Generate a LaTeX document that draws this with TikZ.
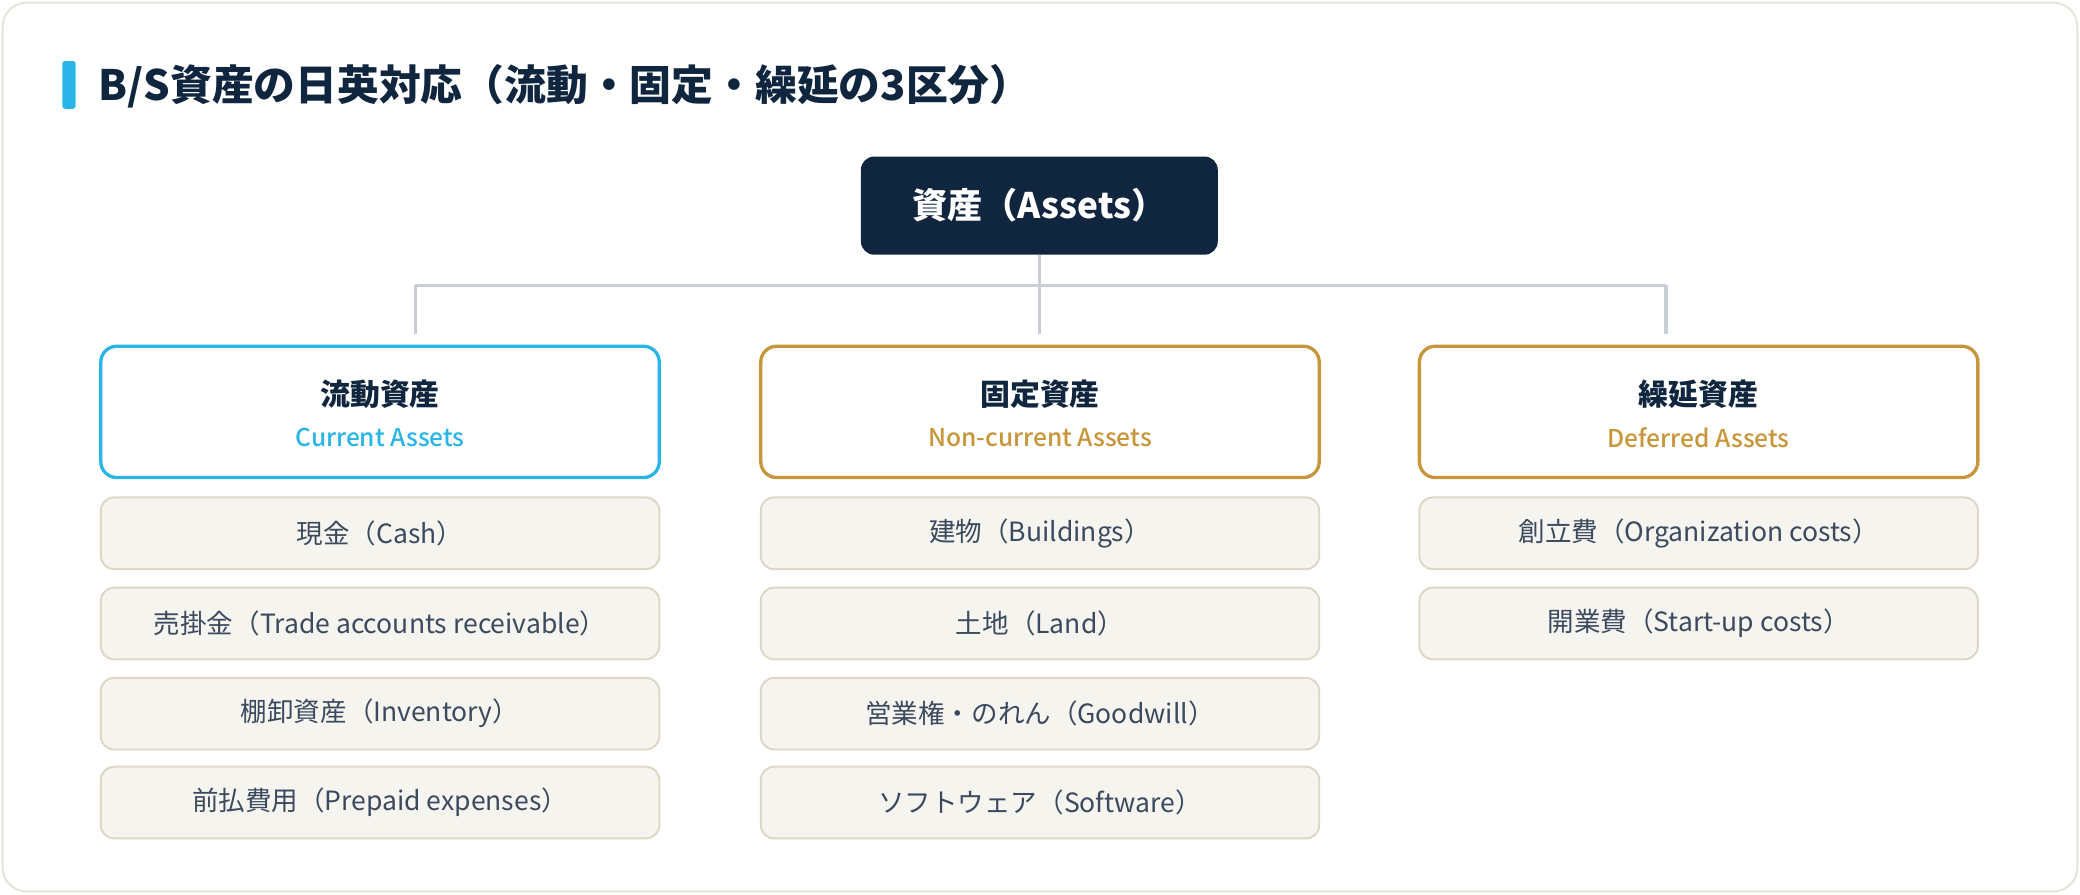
\documentclass[tikz,border=0pt]{standalone}
\usepackage{fontspec}
\setmainfont{Noto Sans CJK JP}
\newfontfamily\medfont{Noto Sans CJK JP}[UprightFont=* Medium]
\definecolor{navy}{HTML}{10263F}
\definecolor{cyanc}{HTML}{29B5E8}
\definecolor{goldc}{HTML}{C8963A}
\definecolor{connc}{HTML}{C8CDD6}
\definecolor{itemfill}{HTML}{F6F4EF}
\definecolor{itemdraw}{HTML}{DDD8C6}
\definecolor{itemtext}{HTML}{3B4A5E}
\definecolor{cardborder}{HTML}{E6E3D9}
\tikzset{
  rootbox/.style={fill=navy, rounded corners=10pt, minimum width=269pt, minimum height=74pt, inner sep=0pt,
    text=white, font=\fontsize{26.5}{30}\selectfont\bfseries},
  catbox/.style={draw=#1, line width=2.5pt, fill=white, rounded corners=12pt, minimum width=421pt, minimum height=99pt, inner sep=0pt},
  cattitle/.style={text=navy, font=\fontsize{22.5}{26}\selectfont\bfseries, inner sep=0pt},
  catsub/.style={text=#1, font=\fontsize{18.5}{22}\medfont, inner sep=0pt},
  itembox/.style={draw=itemdraw, line width=1.5pt, fill=itemfill, rounded corners=10pt, minimum width=421pt, minimum height=54pt, inner sep=0pt,
    text=itemtext, font=\fontsize{20}{24}\selectfont},
  conn/.style={draw=connc, line width=2.5pt}
}
\begin{document}
\begin{tikzpicture}[x=1pt,y=-1pt]
\useasboundingbox (0,0) rectangle (1568,674);
\draw[draw=cardborder, fill=white, rounded corners=18pt, line width=1.5pt] (2,2) rectangle (1566,672);
\fill[cyanc, rounded corners=2pt] (47,46) rectangle (57,82);
\node[anchor=west, text=navy, font=\fontsize{31.5}{36}\selectfont\bfseries, inner sep=0pt] (title) at (74,65) {B/S資産の日英対応（流動・固定・繰延の3区分）};

\node[rootbox] (root) at (783.5,155) {資産（Assets）};

\node[catbox=cyanc] (c1) at (286.5,310.5) {};
\node[catbox=goldc] (c2) at (784,310.5) {};
\node[catbox=goldc] (c3) at (1280.5,310.5) {};
\node[cattitle] (c1t) at (286.5,297) {流動資産};
\node[catsub=cyanc] (c1s) at (286.5,330) {Current Assets};
\node[cattitle] (c2t) at (784,297) {固定資産};
\node[catsub=goldc] (c2s) at (784,330) {Non-current Assets};
\node[cattitle] (c3t) at (1280.5,297) {繰延資産};
\node[catsub=goldc] (c3s) at (1280.5,330) {Deferred Assets};

\coordinate (jL) at (313,215);
\coordinate (jR) at (1256,215);
\coordinate (eL) at (313,252);
\coordinate (eM) at (783.5,252);
\coordinate (eR) at (1256,252);
\draw[conn] (jL) -- (jR);
\draw[conn] (root.south) -- (eM);
\draw[conn] (jL) -- (eL);
\draw[conn] (jR) -- (eR);

\node[itembox] (a1) at (286.5,402) {現金（Cash）};
\node[itembox] (a2) at (286.5,470) {売掛金（Trade accounts receivable）};
\node[itembox] (a3) at (286.5,538) {棚卸資産（Inventory）};
\node[itembox] (a4) at (286.5,605) {前払費用（Prepaid expenses）};

\node[itembox] (b1) at (784,402) {建物（Buildings）};
\node[itembox] (b2) at (784,470) {土地（Land）};
\node[itembox] (b3) at (784,538) {営業権・のれん（Goodwill）};
\node[itembox] (b4) at (784,605) {ソフトウェア（Software）};

\node[itembox] (d1) at (1280.5,402) {創立費（Organization costs）};
\node[itembox] (d2) at (1280.5,470) {開業費（Start-up costs）};
\end{tikzpicture}
\end{document}
